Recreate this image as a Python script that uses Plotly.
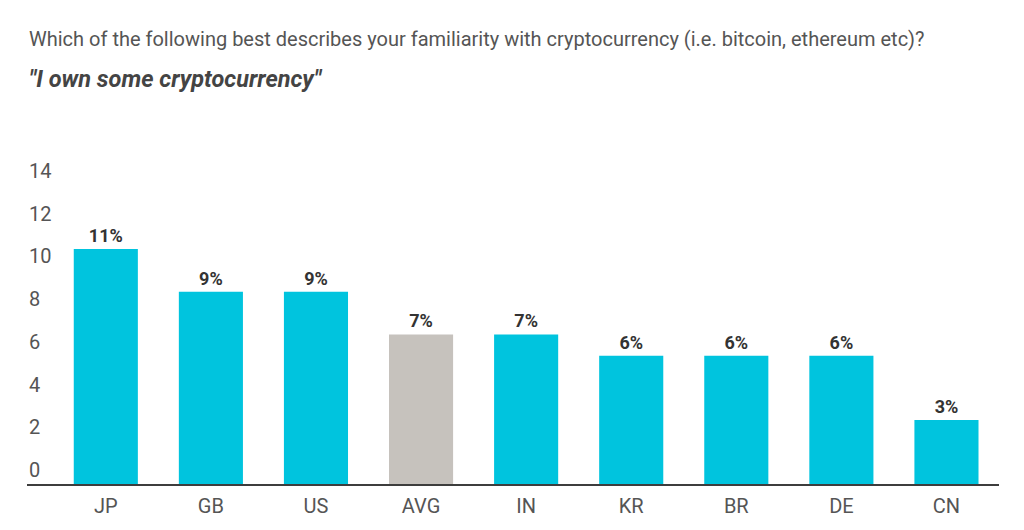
import plotly.graph_objects as go

countries = ["JP", "GB", "US", "AVG", "IN", "KR", "BR", "DE", "CN"]
values = [11, 9, 9, 7, 7, 6, 6, 6, 3]
tick_vals = [0, 2, 4, 6, 8, 10, 12, 14]

CYAN = "#00C4DE"
GREY = "#C6C2BD"
colors = [GREY if c == "AVG" else CYAN for c in countries]

W, H = 1024, 530
ml, mr, mt, mb = 27, 25, 142, 41
plot_h = H - mt - mb

fig = go.Figure(go.Bar(
    x=countries, y=values,
    marker=dict(color=colors, line=dict(width=0)),
    texttemplate="%{y}%", textposition="outside",
    textfont=dict(family="Roboto", size=18, color="#333333", weight="bold"),
    cliponaxis=False,
    hoverinfo="skip",
))

annotations = [
    dict(text=str(v), xref="paper", yref="y", x=0, y=v, yshift=14,
         xanchor="left", yanchor="middle", showarrow=False,
         font=dict(family="Roboto", size=20, color="#555555"))
    for v in tick_vals
]
annotations += [
    dict(text="Which of the following best describes your familiarity with cryptocurrency (i.e. bitcoin, ethereum etc)?",
         xref="paper", yref="paper", x=0, y=(H - mb - 37) / plot_h,
         xanchor="left", yanchor="middle", showarrow=False,
         font=dict(family="Roboto", size=20, color="#555555")),
    dict(text="<b><i>\"I own some cryptocurrency\"</i></b>",
         xref="paper", yref="paper", x=0, y=(H - mb - 78) / plot_h,
         xanchor="left", yanchor="middle", showarrow=False,
         font=dict(family="Roboto", size=23.5, color="#444444")),
]

fig.update_layout(
    width=W, height=H,
    margin=dict(l=ml, r=mr, t=mt, b=mb, pad=0),
    paper_bgcolor="white", plot_bgcolor="white",
    bargap=0.39,
    showlegend=False,
    font=dict(family="Roboto", color="#555555"),
    xaxis=dict(
        range=[-0.75, 8.5], showline=True, linecolor="#3d3d3d", linewidth=2,
        ticks="", showgrid=False, zeroline=False,
        tickfont=dict(family="Roboto", size=20, color="#555555"),
        ticklabelstandoff=3,
    ),
    yaxis=dict(
        range=[0, 16], showgrid=False, zeroline=False, showline=False,
        showticklabels=False, ticks="",
    ),
    annotations=annotations,
)

fig.write_html("out.html")
